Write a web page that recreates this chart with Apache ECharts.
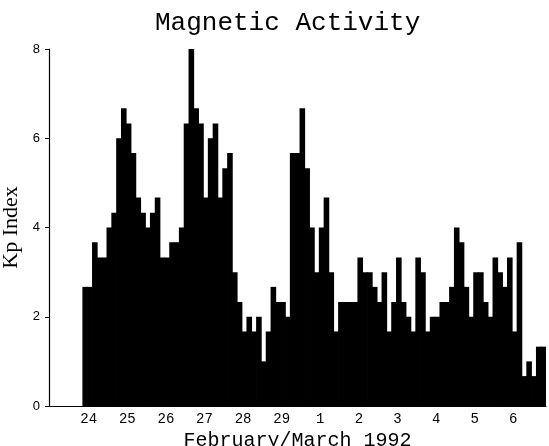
<!DOCTYPE html>
<html>
<head>
<meta charset="utf-8">
<script src="https://cdn.jsdelivr.net/npm/echarts@6/dist/echarts.min.js"></script>
<style>
  html, body { margin: 0; padding: 0; background: #fff; }
  #main { width: 549px; height: 446px; }
</style>
</head>
<body>
<div id="main"></div>
<script>
// day labels under the x axis
const days = ['24', '25', '26', '27', '28', '29', '1', '2', '3', '4', '5', '6'];

// 3-hourly Kp, Feb 24 - Feb 29 1992
const kpFeb = [
  2.67, 2.67, 3.67, 3.33, 3.33, 4, 4.33, 6,
  6.67, 6.33, 5.67, 4.67, 4.33, 4, 4.33, 4.67,
  3.33, 3.33, 3.67, 3.67, 4, 6.33, 8, 6.67,
  6.33, 4.67, 6, 6.33, 4.67, 5.33, 5.67, 3,
  2.33, 1.67, 2, 1.67, 2, 1, 1.67, 2.67,
  2.33, 2.33, 2, 5.67, 5.67, 6.67, 5.33, 4
];

// 3-hourly Kp, Mar 1 - Mar 6 1992
const kpMar = [
  3, 4, 4.67, 3, 1.67, 2.33, 2.33, 2.33,
  2.33, 3.33, 3, 3, 2.67, 2.33, 3, 1.67,
  2.33, 3.33, 2.33, 2, 1.67, 3.33, 3, 1.67,
  2, 2, 2.33, 2.33, 2.67, 4, 3.67, 2.67,
  2, 3, 3, 2.33, 2, 3.33, 3, 2.67,
  3.33, 1.67, 3.67, 0.67, 1, 0.67, 1.33, 1.33
];

const yTicks = [0, 2, 4, 6, 8];

// axis starts 7 slots (Feb 23 03h) before the first value
const lead = 7;
const perDay = 8;

const cats = [];
const bars = [];
for (let i = 0; i < lead; i++) {
  cats.push('pre' + i);
  bars.push(null);
}
kpFeb.concat(kpMar).forEach(function (v, i) {
  cats.push('s' + i);
  bars.push(v);
});

function isDayStart(idx) {
  return idx >= lead && (idx - lead) % perDay === 0;
}

const chart = echarts.init(document.getElementById('main'));

chart.setOption({
  animation: false,
  title: {
    text: 'Magnetic Activity',
    left: 150,
    top: 5,
    textStyle: {
      fontFamily: 'Liberation Mono',
      fontSize: 26,
      fontWeight: 'normal',
      color: '#000'
    }
  },
  grid: { left: 49, right: 3, top: 49, bottom: 40, outerBoundsMode: 'none' },
  xAxis: {
    type: 'category',
    data: cats,
    boundaryGap: true,
    name: 'February/March 1992',
    nameLocation: 'middle',
    nameGap: 20,
    nameTextStyle: {
      fontFamily: 'Liberation Mono',
      fontSize: 20,
      color: '#000'
    },
    axisLine: { lineStyle: { color: '#000', width: 1.2 } },
    axisTick: {
      interval: function (idx) { return idx === 0 || isDayStart(idx); },
      length: 3,
      lineStyle: { color: '#000' }
    },
    axisLabel: {
      interval: function (idx) { return isDayStart(idx); },
      formatter: function (val, idx) {
        return isDayStart(idx) ? days[(idx - lead) / perDay] : '';
      },
      margin: 6,
      padding: [0, 0, 0, 7],
      fontFamily: 'Liberation Mono',
      fontSize: 14,
      color: '#000'
    },
    splitLine: { show: false }
  },
  yAxis: {
    type: 'value',
    min: yTicks[0],
    max: yTicks[yTicks.length - 1],
    interval: 2,
    name: 'Kp Index',
    nameLocation: 'middle',
    nameGap: 16,
    nameTextStyle: {
      fontFamily: 'Liberation Serif',
      fontSize: 22,
      color: '#000'
    },
    axisLine: { show: true, lineStyle: { color: '#000', width: 1.2 } },
    axisTick: { show: true, length: 4, lineStyle: { color: '#000' } },
    axisLabel: {
      margin: 9,
      fontFamily: 'Liberation Sans',
      fontSize: 13,
      color: '#000'
    },
    splitLine: { show: false }
  },
  series: [{
    type: 'bar',
    data: bars,
    barWidth: 5.6,
    itemStyle: { color: '#000' }
  }]
});
</script>
</body>
</html>
